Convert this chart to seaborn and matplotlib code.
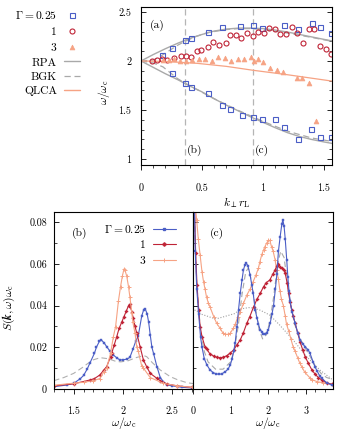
import numpy as np
import pandas as pd
import seaborn as sns
import matplotlib
matplotlib.use("Agg")
import matplotlib.pyplot as plt
from matplotlib.lines import Line2D
from matplotlib.ticker import MultipleLocator, FuncFormatter

# ---------------- data: panel (a) dispersion ----------------
k_blue_up = [0.175, 0.257, 0.361, 0.407, 0.546, 0.661, 0.811, 0.915, 0.989, 1.172, 1.284, 1.40, 1.467, 1.557]
w_blue_up = [2.06, 2.136, 2.214, 2.238, 2.30, 2.344, 2.357, 2.367, 2.333, 2.367, 2.327, 2.39, 2.344, 2.283]
k_blue_lo = [0.257, 0.361, 0.407, 0.546, 0.661, 0.730, 0.825, 0.915, 0.989, 1.098, 1.175, 1.284, 1.393, 1.467, 1.557]
w_blue_lo = [1.881, 1.772, 1.731, 1.670, 1.551, 1.510, 1.449, 1.425, 1.408, 1.408, 1.323, 1.201, 1.306, 1.228, 1.228]

k_red = [0.087, 0.128, 0.169, 0.210, 0.273, 0.325, 0.369, 0.410, 0.456, 0.492, 0.546, 0.587, 0.642,
         0.697, 0.730, 0.779, 0.820, 0.866, 0.921, 0.962, 1.008, 1.049, 1.098, 1.139, 1.189, 1.235,
         1.281, 1.330, 1.380, 1.420, 1.467, 1.516, 1.557]
w_red = [2.003, 2.010, 2.017, 2.010, 2.027, 2.051, 2.054, 2.044, 2.105, 2.112, 2.146, 2.197, 2.163,
         2.180, 2.265, 2.265, 2.231, 2.289, 2.255, 2.299, 2.289, 2.333, 2.327, 2.272, 2.272, 2.350,
         2.289, 2.187, 2.327, 2.327, 2.156, 2.119, 2.070]

k_tri = [0.182, 0.230, 0.273, 0.320, 0.369, 0.415, 0.475, 0.525, 0.579, 0.634, 0.689, 0.738, 0.792,
         0.847, 0.899, 0.926, 0.956, 1.003, 1.057, 1.112, 1.167, 1.276, 1.322, 1.380, 1.432]
w_tri = [2.010, 2.010, 2.017, 2.003, 2.000, 2.010, 2.020, 2.020, 2.000, 2.044, 2.034, 2.000, 2.020,
         2.017, 2.037, 2.000, 2.017, 1.993, 1.932, 1.908, 1.891, 1.823, 1.823, 1.779, 1.391]

k_rpa = [0, 0.1, 0.2, 0.3, 0.4, 0.5, 0.6, 0.7, 0.8, 0.9, 1.0, 1.1, 1.2, 1.3, 1.4, 1.5, 1.566]
w_rpa_up = [2.0, 2.065, 2.125, 2.18, 2.23, 2.27, 2.305, 2.325, 2.335, 2.335, 2.33, 2.315, 2.295, 2.27, 2.245, 2.22, 2.205]
w_rpa_lo = [2.0, 1.935, 1.87, 1.81, 1.745, 1.685, 1.615, 1.55, 1.49, 1.43, 1.375, 1.32, 1.27, 1.23, 1.20, 1.175, 1.16]

k_bgk_up = [0, 0.1, 0.15, 0.2, 0.25, 0.3, 0.36, 0.45, 0.55, 0.7, 0.8, 0.9, 1.0, 1.2, 1.4, 1.566]
w_bgk_up = [2.0, 2.01, 2.04, 2.08, 2.12, 2.16, 2.20, 2.25, 2.29, 2.32, 2.33, 2.33, 2.32, 2.285, 2.24, 2.20]
k_bgk_lo = [0, 0.1, 0.18, 0.25, 0.3, 0.36, 0.45, 0.6, 0.8, 1.0, 1.2, 1.4, 1.566]
w_bgk_lo = [2.0, 1.98, 1.94, 1.87, 1.82, 1.775, 1.715, 1.615, 1.495, 1.385, 1.285, 1.215, 1.18]

k_qlca = [0, 0.2, 0.46, 0.7, 0.92, 1.2, 1.566]
w_qlca = [2.0, 1.995, 1.976, 1.945, 1.905, 1.86, 1.795]

k_cuts = [0.36, 0.92]

# ---------------- data: panel (b) S(k,w), k r_L = 0.36 ----------------
wb_blue = [1.30, 1.43, 1.50, 1.568, 1.60, 1.636, 1.663, 1.71, 1.73, 1.76, 1.78, 1.81, 1.834, 1.87, 1.902,
           1.94, 1.97, 2.00, 2.04, 2.07, 2.10, 2.13, 2.155, 2.19, 2.21, 2.224, 2.245, 2.26, 2.276, 2.293,
           2.31, 2.344, 2.378, 2.41, 2.446, 2.50, 2.60, 2.70]
Sb_blue = [0.0011, 0.0019, 0.0027, 0.0050, 0.0065, 0.0095, 0.0123, 0.0171, 0.0200, 0.0228, 0.0235, 0.0220,
           0.0203, 0.0180, 0.0163, 0.0148, 0.0139, 0.0140, 0.0143, 0.0152, 0.0190, 0.0230, 0.0255, 0.0350,
           0.0380, 0.0385, 0.0360, 0.0320, 0.0260, 0.0200, 0.0170, 0.0107, 0.0055, 0.0035, 0.0020, 0.0015,
           0.0008, 0.0005]
wb_red = [1.30, 1.50, 1.663, 1.71, 1.765, 1.806, 1.834, 1.874, 1.885, 1.91, 1.936, 1.96, 1.987, 2.01, 2.035,
          2.056, 2.066, 2.09, 2.103, 2.122, 2.14, 2.173, 2.207, 2.24, 2.276, 2.344, 2.378, 2.446, 2.55, 2.70]
Sb_red = [0.0015, 0.0025, 0.0043, 0.0050, 0.0067, 0.0091, 0.0107, 0.0155, 0.0171, 0.0210, 0.0250, 0.0290,
          0.0320, 0.0347, 0.0375, 0.0400, 0.0405, 0.0370, 0.0340, 0.0300, 0.0267, 0.0203, 0.0139, 0.0107,
          0.0075, 0.0051, 0.0040, 0.0024, 0.0015, 0.0008]
wb_sal = [1.30, 1.50, 1.60, 1.70, 1.765, 1.806, 1.834, 1.874, 1.902, 1.925, 1.953, 1.975, 1.993, 2.01, 2.02,
          2.038, 2.056, 2.07, 2.09, 2.10, 2.122, 2.14, 2.155, 2.19, 2.207, 2.276, 2.41, 2.55, 2.70]
Sb_sal = [0.0018, 0.0028, 0.0032, 0.0040, 0.0050, 0.0083, 0.0100, 0.0171, 0.0250, 0.0299, 0.0420, 0.0490,
          0.0540, 0.0575, 0.0570, 0.0540, 0.0490, 0.0440, 0.0363, 0.0320, 0.0267, 0.0200, 0.0180, 0.0110,
          0.0100, 0.0055, 0.0027, 0.0015, 0.0008]
wb_th = [1.30, 1.40, 1.50, 1.595, 1.636, 1.70, 1.77, 1.85, 1.93, 1.977, 2.05, 2.13, 2.21, 2.24, 2.30,
         2.378, 2.48, 2.55, 2.65, 2.71]
Sb_th = [0.0040, 0.0055, 0.0075, 0.0105, 0.0120, 0.0140, 0.0150, 0.0145, 0.0132, 0.0130, 0.0135, 0.0150,
         0.0160, 0.0155, 0.0125, 0.0091, 0.0059, 0.0045, 0.0030, 0.0026]

# ---------------- data: panel (c) S(k,w), k r_L = 0.92 ----------------
wc_blue = [0.03, 0.06, 0.10, 0.15, 0.20, 0.24, 0.30, 0.37, 0.45, 0.54, 0.62, 0.70, 0.76, 0.857, 0.93, 0.99,
           1.04, 1.08, 1.12, 1.167, 1.21, 1.255, 1.30, 1.34, 1.38, 1.42, 1.46, 1.52, 1.56, 1.60, 1.653, 1.70,
           1.74, 1.785, 1.83, 1.865, 1.92, 1.963, 2.00, 2.05, 2.10, 2.14, 2.19, 2.228, 2.27, 2.316, 2.36,
           2.387, 2.42, 2.45, 2.49, 2.52, 2.55, 2.58, 2.63, 2.714, 2.78, 2.847, 2.92, 2.98, 3.06, 3.11, 3.19,
           3.24, 3.30, 3.37, 3.42, 3.55, 3.69]
Sc_blue = [0.095, 0.066, 0.048, 0.036, 0.025, 0.020, 0.0145, 0.0115, 0.0092, 0.0078, 0.0072, 0.0071, 0.0072,
           0.0083, 0.0095, 0.0115, 0.0145, 0.0180, 0.0220, 0.0299, 0.0380, 0.0458, 0.0520, 0.0570, 0.0595,
           0.0602, 0.0590, 0.0545, 0.0500, 0.0458, 0.0378, 0.0340, 0.0310, 0.0283, 0.0275, 0.0265, 0.0265,
           0.0270, 0.0283, 0.0315, 0.0360, 0.0400, 0.0480, 0.0550, 0.0660, 0.0730, 0.0790, 0.0810, 0.0780,
           0.0720, 0.0620, 0.0538, 0.0470, 0.0420, 0.0370, 0.0315, 0.0270, 0.0235, 0.0215, 0.0203, 0.0187,
           0.0171, 0.0130, 0.0107, 0.0085, 0.0062, 0.0052, 0.0030, 0.0019]
wc_red = [0.03, 0.07, 0.106, 0.15, 0.19, 0.24, 0.318, 0.37, 0.45, 0.548, 0.63, 0.724, 0.80, 0.90, 0.98,
          1.08, 1.16, 1.255, 1.34, 1.43, 1.51, 1.61, 1.70, 1.785, 1.874, 1.95, 2.04, 2.12, 2.18, 2.23, 2.27,
          2.32, 2.36, 2.42, 2.45, 2.50, 2.54, 2.58, 2.626, 2.66, 2.714, 2.78, 2.847, 2.92, 2.98, 3.06, 3.16,
          3.25, 3.33, 3.42, 3.55, 3.70]
Sc_red = [0.095, 0.065, 0.050, 0.0378, 0.0299, 0.0250, 0.0203, 0.0190, 0.0168, 0.0158, 0.0152, 0.0150,
          0.0152, 0.0160, 0.0171, 0.0187, 0.0210, 0.0235, 0.0270, 0.0315, 0.0347, 0.0394, 0.0430, 0.0458,
          0.0490, 0.0510, 0.0522, 0.0550, 0.0570, 0.0590, 0.0600, 0.0585, 0.0578, 0.0570, 0.0554, 0.0510,
          0.0458, 0.0415, 0.0378, 0.0350, 0.0315, 0.0270, 0.0225, 0.0185, 0.0155, 0.0125, 0.0091, 0.0070,
          0.0055, 0.0043, 0.0030, 0.0022]
wc_sal = [0.03, 0.06, 0.097, 0.14, 0.19, 0.24, 0.28, 0.318, 0.36, 0.41, 0.45, 0.55, 0.628, 0.72, 0.79, 0.857,
          0.92, 0.99, 1.07, 1.12, 1.19, 1.255, 1.34, 1.43, 1.52, 1.60, 1.67, 1.74, 1.777, 1.83, 1.874, 1.91,
          1.96, 2.00, 2.04, 2.09, 2.13, 2.18, 2.22, 2.27, 2.31, 2.35, 2.40, 2.45, 2.485, 2.54, 2.60, 2.66,
          2.714, 2.78, 2.84, 2.89, 2.97, 3.10, 3.16, 3.30, 3.46, 3.70]
Sc_sal = [0.095, 0.088, 0.081, 0.072, 0.064, 0.056, 0.0514, 0.0480, 0.0440, 0.0410, 0.0394, 0.0347, 0.0315,
          0.0291, 0.0270, 0.0262, 0.0262, 0.0267, 0.0291, 0.0310, 0.0345, 0.0370, 0.0410, 0.0450, 0.0480,
          0.0515, 0.0545, 0.0580, 0.0610, 0.0645, 0.0666, 0.0682, 0.0700, 0.0712, 0.0712, 0.0680, 0.0660,
          0.0620, 0.0570, 0.0525, 0.0470, 0.0430, 0.0400, 0.0350, 0.0310, 0.0280, 0.0240, 0.0203, 0.0180,
          0.0150, 0.0123, 0.0107, 0.0080, 0.0055, 0.0045, 0.0035, 0.0030, 0.0022]
wc_dash = [0.03, 0.05, 0.1, 0.2, 0.3, 0.4, 0.6, 0.8, 1.0, 1.1, 1.2, 1.3, 1.4, 1.47, 1.55, 1.65, 1.75, 1.85,
           1.95, 2.05, 2.15, 2.25, 2.33, 2.42, 2.5, 2.6, 2.7, 2.85, 3.0, 3.1, 3.25, 3.4, 3.55, 3.72]
Sc_dash = [0.095, 0.075, 0.050, 0.028, 0.018, 0.013, 0.0095, 0.0095, 0.013, 0.019, 0.030, 0.045, 0.056,
           0.058, 0.052, 0.040, 0.029, 0.024, 0.026, 0.033, 0.045, 0.060, 0.066, 0.063, 0.052, 0.040, 0.031,
           0.024, 0.019, 0.016, 0.011, 0.0075, 0.0055, 0.0045]
wc_dot = [0.0, 0.05, 0.23, 0.54, 0.68, 0.89, 1.12, 1.247, 1.48, 1.6, 1.777, 1.87, 2.04, 2.3, 2.66, 3.02, 3.37, 3.72]
Sc_dot = [0.039, 0.0378, 0.0358, 0.0339, 0.0339, 0.0350, 0.0362, 0.0383, 0.0390, 0.0388, 0.0378, 0.0370,
          0.0354, 0.0307, 0.0235, 0.0155, 0.0091, 0.0043]

gamma_labels = [r"$\Gamma = 0.25$", r"$1$", r"$3$"]
theory_labels = ["RPA", "BGK", "QLCA"]

# ---------------- style ----------------
sns.set_theme(style="ticks")
plt.rcParams.update({
    "font.family": "serif",
    "font.serif": ["cmr10"],
    "mathtext.fontset": "cm",
    "axes.formatter.use_mathtext": True,
    "axes.unicode_minus": False,
    "axes.edgecolor": "black",
    "axes.linewidth": 0.8,
    "xtick.color": "black",
    "ytick.color": "black",
    "text.color": "black",
    "axes.labelcolor": "black",
    "xtick.labelsize": 7.3,
    "ytick.labelsize": 7.3,
    "axes.labelsize": 8.3,
    "legend.fontsize": 8.3,
})

BLUE = "#4b5ec6"
RED = "#bf2336"
SAL = "#f6a384"
GRAY = "#a9a9a9"

fig = plt.figure(figsize=(3.39, 4.33), dpi=100)
W, H = 339.0, 433.0
ax_a = fig.add_axes([141 / W, 1 - 165 / H, 191 / W, 158 / H])
ax_b = fig.add_axes([54 / W, 1 - 389 / H, 139 / W, 177 / H])
ax_c = fig.add_axes([193 / W, 1 - 389 / H, 140 / W, 177 / H], sharey=ax_b)

fmt = FuncFormatter(lambda v, p: f"{v:g}")


def line(ax, x, y, **kw):
    sns.lineplot(x=x, y=y, ax=ax, sort=False, estimator=None, legend=False, **kw)


# ---------------- panel (a) ----------------
for kc in k_cuts:
    ax_a.axvline(kc, color="#b5b5b5", lw=0.9, dashes=(5, 3), zorder=1)
line(ax_a, k_rpa, w_rpa_up, color=GRAY, lw=1.0)
line(ax_a, k_rpa, w_rpa_lo, color=GRAY, lw=1.0)
line(ax_a, k_bgk_up, w_bgk_up, color=GRAY, lw=0.9, dashes=(5, 3))
line(ax_a, k_bgk_lo, w_bgk_lo, color=GRAY, lw=0.9, dashes=(5, 3))
line(ax_a, k_qlca, w_qlca, color=SAL, lw=0.9)
line(ax_a, k_blue_up, w_blue_up, ls="none", marker="s", ms=3.6, mfc="none", mec=BLUE, mew=0.8)
line(ax_a, k_blue_lo, w_blue_lo, ls="none", marker="s", ms=3.6, mfc="none", mec=BLUE, mew=0.8)
line(ax_a, k_red, w_red, ls="none", marker="o", ms=3.6, mfc="none", mec=RED, mew=0.8)
line(ax_a, k_tri, w_tri, ls="none", marker="^", ms=3.5, mfc=SAL, mec=SAL, mew=0.5)

ax_a.set_xlim(0, 1.566)
ax_a.set_ylim(0.94, 2.55)
ax_a.xaxis.set_major_locator(MultipleLocator(0.5))
ax_a.xaxis.set_minor_locator(MultipleLocator(0.1))
ax_a.yaxis.set_major_locator(MultipleLocator(0.5))
ax_a.yaxis.set_minor_locator(MultipleLocator(0.1))
ax_a.xaxis.set_major_formatter(fmt)
ax_a.yaxis.set_major_formatter(fmt)
ax_a.tick_params(axis="y", which="both", direction="in", left=True, right=True, pad=7)
ax_a.tick_params(axis="x", which="both", direction="out", bottom=True, top=False, pad=10)
ax_a.tick_params(which="major", length=3.5, width=0.6)
ax_a.tick_params(which="minor", length=2, width=0.5)
ax_a.set_xlabel(r"$k_\perp r_\mathrm{L}$")
ax_a.set_ylabel(r"$\omega/\omega_\mathrm{c}$")
ax_a.xaxis.set_label_coords(0.5, -0.19)
ax_a.yaxis.set_label_coords(-0.15, 0.46)
ax_a.text(0.045, 0.885, "(a)", transform=ax_a.transAxes, fontsize=8.3, va="center")
ax_a.text(0.44, 1.09, "(b)", fontsize=8.3, ha="center", va="center")
ax_a.text(0.99, 1.09, "(c)", fontsize=8.3, ha="center", va="center")

h_a = [
    Line2D([], [], ls="none", marker="s", ms=3.6, mfc="none", mec=BLUE, mew=0.8),
    Line2D([], [], ls="none", marker="o", ms=3.6, mfc="none", mec=RED, mew=0.8),
    Line2D([], [], ls="none", marker="^", ms=3.5, mfc=SAL, mec=SAL, mew=0.5),
    Line2D([], [], color=GRAY, lw=1.0),
    Line2D([], [], color=GRAY, lw=0.9, dashes=(5, 3)),
    Line2D([], [], color=SAL, lw=1.0),
]
fig.legend(h_a, gamma_labels + theory_labels, loc="upper right", bbox_to_anchor=(80 / W, 1 - 9 / H),
           frameon=False, markerfirst=False, handlelength=1.4, handletextpad=0.6,
           labelspacing=0.36, borderpad=0, borderaxespad=0)

# ---------------- panel (b) ----------------
line(ax_b, wb_th, Sb_th, color="#b0b0b0", lw=0.8, dashes=(5, 3))
line(ax_b, wb_blue, Sb_blue, color=BLUE, lw=0.8, marker="s", ms=1.8, mec=BLUE, mfc=BLUE, mew=0.3)
line(ax_b, wb_red, Sb_red, color=RED, lw=0.8, marker="P", ms=2.2, mec=RED, mfc=RED, mew=0.3)
line(ax_b, wb_sal, Sb_sal, color=SAL, lw=0.8, marker="+", ms=3, mec=SAL, mew=0.7)
ax_b.set_xlim(1.3, 2.71)
ax_b.set_ylim(0, 0.0848)
ax_b.xaxis.set_major_locator(MultipleLocator(0.5))
ax_b.xaxis.set_minor_locator(MultipleLocator(0.1))
ax_b.yaxis.set_major_locator(MultipleLocator(0.02))
ax_b.yaxis.set_minor_locator(MultipleLocator(0.01))
ax_b.xaxis.set_major_formatter(fmt)
ax_b.yaxis.set_major_formatter(fmt)
ax_b.tick_params(axis="y", which="both", direction="in", left=True, right=False, pad=5)
ax_b.tick_params(axis="x", which="both", direction="out", bottom=True, top=False, pad=9)
ax_b.tick_params(which="major", length=3.5, width=0.6)
ax_b.tick_params(which="minor", length=2, width=0.5)
ax_b.set_xlabel(r"$\omega/\omega_\mathrm{c}$")
ax_b.set_ylabel(r"$S(\boldsymbol{k},\omega)\omega_\mathrm{c}$")
ax_b.xaxis.set_label_coords(0.5, -0.145)
ax_b.yaxis.set_label_coords(-0.265, 0.46)
ax_b.text(1.556, 0.0747, "(b)", fontsize=8.3, ha="center", va="center")

h_b = [
    Line2D([], [], color=BLUE, lw=0.8, marker="s", ms=1.8, mec=BLUE, mfc=BLUE),
    Line2D([], [], color=RED, lw=0.8, marker="P", ms=2.2, mec=RED, mfc=RED),
    Line2D([], [], color=SAL, lw=0.8, marker="+", ms=3, mec=SAL, mew=0.7),
]
ax_b.legend(h_b, gamma_labels, loc="upper right", bbox_to_anchor=(176 / W, 1 - 223 / H),
            bbox_transform=fig.transFigure, frameon=False, markerfirst=False, handlelength=2.0,
            handletextpad=0.6, labelspacing=0.3, borderpad=0, borderaxespad=0)

# ---------------- panel (c) ----------------
line(ax_c, wc_dot, Sc_dot, color="#a0a0a0", lw=0.8, dashes=(1, 1.5))
line(ax_c, wc_dash, Sc_dash, color="#a8a8a8", lw=0.8, dashes=(5, 3))
line(ax_c, wc_sal, Sc_sal, color=SAL, lw=0.8, marker="+", ms=3, mec=SAL, mew=0.7)
line(ax_c, wc_red, Sc_red, color=RED, lw=0.8, marker="P", ms=2.2, mec=RED, mfc=RED, mew=0.3)
line(ax_c, wc_blue, Sc_blue, color=BLUE, lw=0.8, marker="s", ms=1.8, mec=BLUE, mfc=BLUE, mew=0.3)
ax_c.set_xlim(0, 3.72)
ax_c.xaxis.set_major_locator(MultipleLocator(1))
ax_c.xaxis.set_minor_locator(MultipleLocator(0.25))
ax_c.xaxis.set_major_formatter(fmt)
ax_c.tick_params(axis="y", which="both", direction="in", left=True, right=True, labelleft=False)
ax_c.tick_params(axis="x", which="both", direction="out", bottom=True, top=False, pad=9)
ax_c.tick_params(which="major", length=3.5, width=0.6)
ax_c.tick_params(which="minor", length=2, width=0.5)
ax_c.set_xlabel(r"$\omega/\omega_\mathrm{c}$")
ax_c.set_ylabel("")
ax_c.xaxis.set_label_coords(0.536, -0.145)
ax_c.text(0.64, 0.0747, "(c)", fontsize=8.3, ha="center", va="center")

fig.savefig("out.png", dpi=100)
